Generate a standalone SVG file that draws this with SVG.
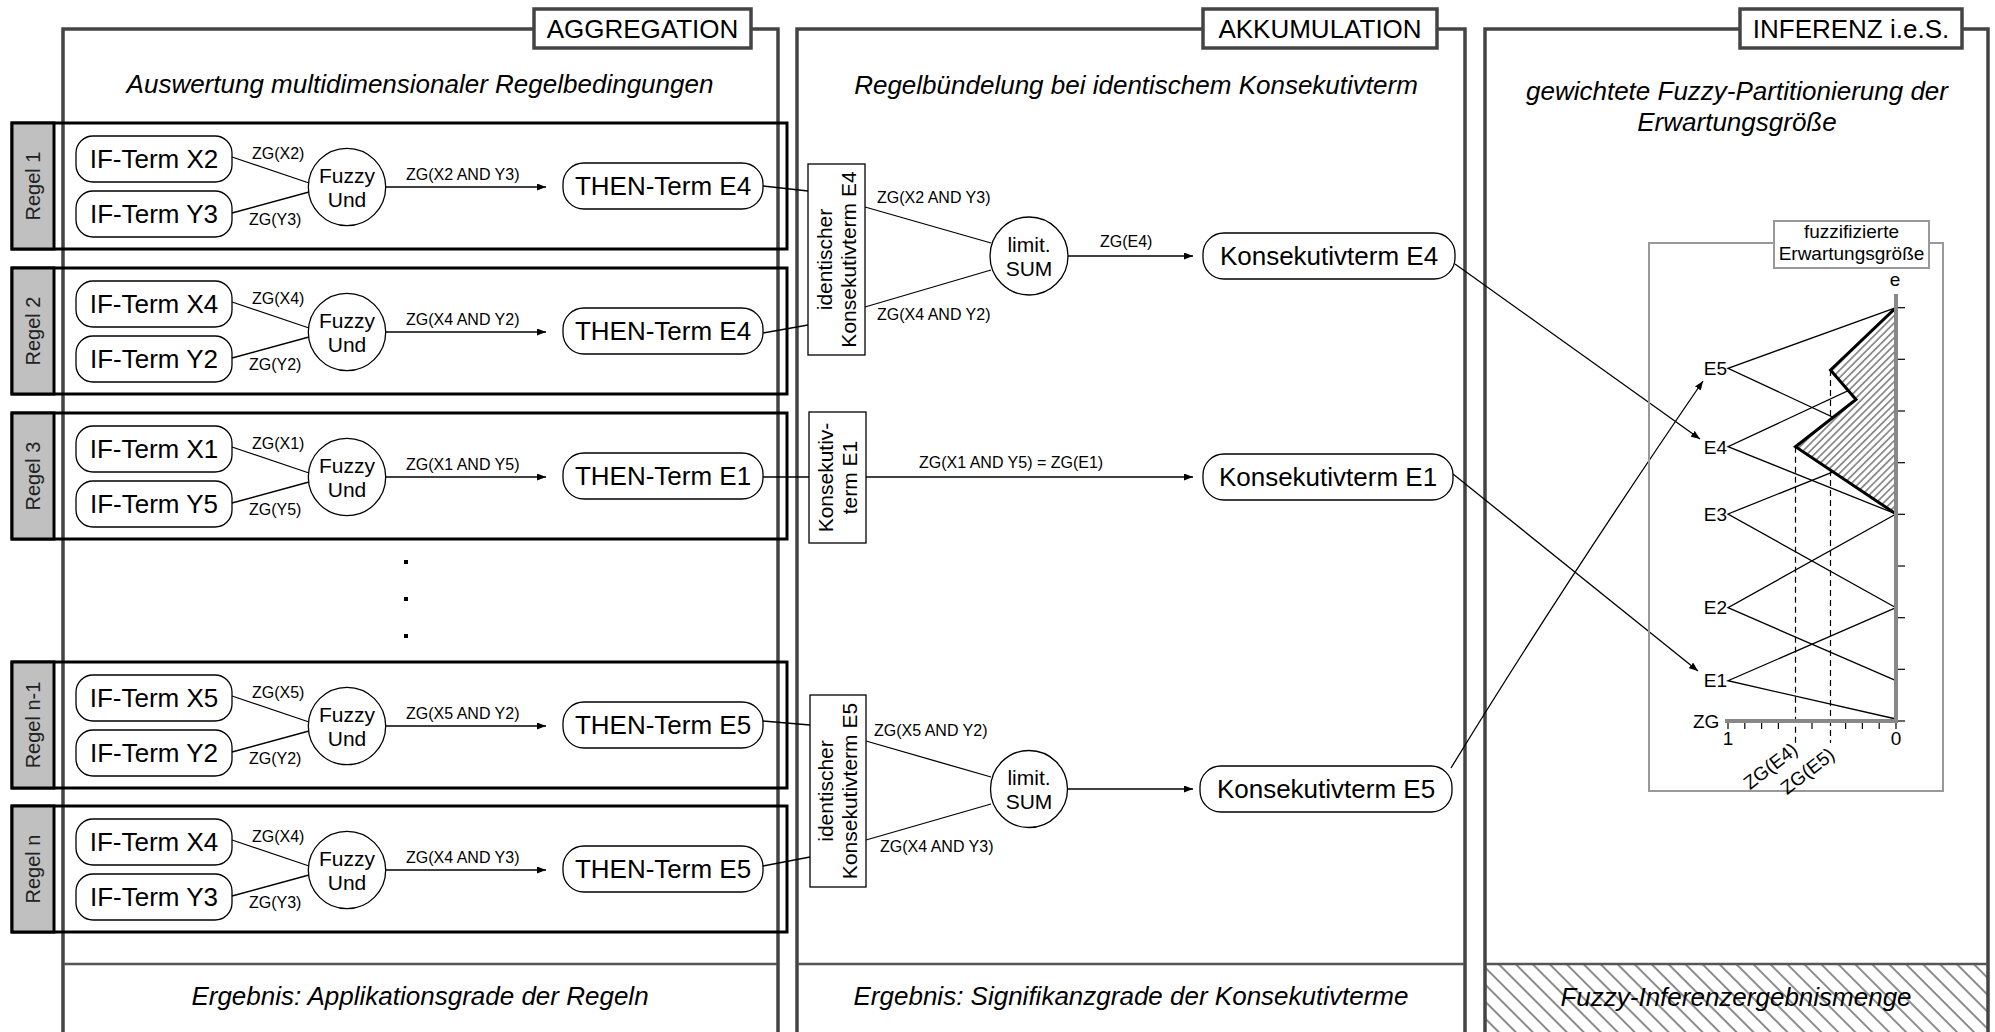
<svg xmlns="http://www.w3.org/2000/svg" width="1995" height="1032" viewBox="0 0 1995 1032">
<defs>
<style>
text{font-family:"Liberation Sans",Arial,sans-serif;fill:#000}
.frame{fill:none;stroke:#444;stroke-width:3.5}
.flabel{fill:#fff;stroke:#444;stroke-width:3.5}
.ft{font-size:26px;text-anchor:middle}
.sub{font-size:26px;font-style:italic;text-anchor:middle}
.sep{stroke:#555;stroke-width:2.5}
.rule{fill:none;stroke:#000;stroke-width:3}
.tab{fill:#c0c0c0;stroke:#000;stroke-width:3}
.tabt{font-size:20px;text-anchor:middle;fill:#222}
.node{fill:#fff;stroke:#000;stroke-width:1.3}
.nt{font-size:26px;text-anchor:middle}
.ct{font-size:21px;text-anchor:middle}
.zg{font-size:16px}
.ln{stroke:#000;stroke-width:1.3;fill:none}
.arr{stroke:#000;stroke-width:1.3;fill:none;marker-end:url(#ah)}
.ax{stroke:#888;stroke-width:4;fill:none}
.tk{stroke:#000;stroke-width:1.2}
.dash{stroke:#000;stroke-width:1.2;stroke-dasharray:6 4}
.lbl{font-size:19px}
</style>
<marker id="ah" markerWidth="9" markerHeight="7" refX="9" refY="3.5" orient="auto" markerUnits="userSpaceOnUse"><path d="M0,0 L9,3.5 L0,7 z" fill="#000"/></marker>
<pattern id="hatchS" width="5.2" height="5.2" patternUnits="userSpaceOnUse" patternTransform="rotate(45)"><line x1="2.6" y1="0" x2="2.6" y2="5.2" stroke="#000" stroke-width="0.8"/></pattern>
<pattern id="hatchB" width="12" height="12" patternUnits="userSpaceOnUse" patternTransform="rotate(-45)"><line x1="6" y1="0" x2="6" y2="12" stroke="#000" stroke-width="0.9"/></pattern>
</defs>
<rect width="1995" height="1032" fill="#fff"/>

<!-- Inferenz bottom hatch -->
<rect x="1485" y="964" width="503" height="68" fill="url(#hatchB)"/>

<!-- Frames -->
<g id="frame-aggregation">
<path class="frame" d="M63,1032 V29 H778 V1032"/>
<line class="sep" x1="64" y1="964" x2="777" y2="964"/>
<text class="sub" x="420" y="93">Auswertung multidimensionaler Regelbedingungen</text>
<text class="sub" x="420" y="1005">Ergebnis: Applikationsgrade der Regeln</text>
</g>
<g id="frame-akkumulation">
<path class="frame" d="M797,1032 V29 H1465 V1032"/>
<line class="sep" x1="798" y1="964" x2="1464" y2="964"/>
<text class="sub" x="1136" y="94">Regelbündelung bei identischem Konsekutivterm</text>
<text class="sub" x="1131" y="1005">Ergebnis: Signifikanzgrade der Konsekutivterme</text>
</g>
<g id="frame-inferenz">
<path class="frame" d="M1485,1032 V29 H1988 V1032"/>
<line class="sep" x1="1486" y1="964" x2="1987" y2="964"/>
<text class="sub" x="1737" y="100">gewichtete Fuzzy-Partitionierung der</text>
<text class="sub" x="1737" y="131">Erwartungsgröße</text>
<text class="sub" x="1736" y="1006">Fuzzy-Inferenzergebnismenge</text>
</g>

<!-- Rules -->
<g id="regel-1">
<rect class="rule" x="12" y="123" width="775" height="126"/>
<rect class="tab" x="12" y="123" width="42" height="126"/>
<text class="tabt" transform="translate(40,186) rotate(-90)">Regel 1</text>
<rect class="node" x="76" y="136" width="156" height="46" rx="17"/><text class="nt" x="154" y="167.5">IF-Term X2</text>
<rect class="node" x="76" y="191" width="156" height="46" rx="17"/><text class="nt" x="154" y="222.5">IF-Term Y3</text>
<line class="ln" x1="232" y1="157" x2="309" y2="183"/><line class="ln" x1="232" y1="213" x2="309" y2="192"/>
<text class="zg" x="252" y="159">ZG(X2)</text><text class="zg" x="249" y="225">ZG(Y3)</text>
<circle class="node" cx="347" cy="187" r="38.7"/><text class="ct" x="347" y="183">Fuzzy</text><text class="ct" x="347" y="206.5">Und</text>
<line class="arr" x1="386" y1="187" x2="546" y2="187"/><text class="zg" x="406" y="180">ZG(X2 AND Y3)</text>
<rect class="node" x="563" y="163" width="200" height="46" rx="21"/><text class="nt" x="663" y="195">THEN-Term E4</text>
</g>
<g id="regel-2">
<rect class="rule" x="12" y="268" width="775" height="126"/>
<rect class="tab" x="12" y="268" width="42" height="126"/>
<text class="tabt" transform="translate(40,331) rotate(-90)">Regel 2</text>
<rect class="node" x="76" y="281" width="156" height="46" rx="17"/><text class="nt" x="154" y="312.5">IF-Term X4</text>
<rect class="node" x="76" y="336" width="156" height="46" rx="17"/><text class="nt" x="154" y="367.5">IF-Term Y2</text>
<line class="ln" x1="232" y1="302" x2="309" y2="328"/><line class="ln" x1="232" y1="358" x2="309" y2="337"/>
<text class="zg" x="252" y="304">ZG(X4)</text><text class="zg" x="249" y="370">ZG(Y2)</text>
<circle class="node" cx="347" cy="332" r="38.7"/><text class="ct" x="347" y="328">Fuzzy</text><text class="ct" x="347" y="351.5">Und</text>
<line class="arr" x1="386" y1="332" x2="546" y2="332"/><text class="zg" x="406" y="325">ZG(X4 AND Y2)</text>
<rect class="node" x="563" y="308" width="200" height="46" rx="21"/><text class="nt" x="663" y="340">THEN-Term E4</text>
</g>
<g id="regel-3">
<rect class="rule" x="12" y="413" width="775" height="126"/>
<rect class="tab" x="12" y="413" width="42" height="126"/>
<text class="tabt" transform="translate(40,476) rotate(-90)">Regel 3</text>
<rect class="node" x="76" y="426" width="156" height="46" rx="17"/><text class="nt" x="154" y="457.5">IF-Term X1</text>
<rect class="node" x="76" y="481" width="156" height="46" rx="17"/><text class="nt" x="154" y="512.5">IF-Term Y5</text>
<line class="ln" x1="232" y1="447" x2="309" y2="473"/><line class="ln" x1="232" y1="503" x2="309" y2="482"/>
<text class="zg" x="252" y="449">ZG(X1)</text><text class="zg" x="249" y="515">ZG(Y5)</text>
<circle class="node" cx="347" cy="477" r="38.7"/><text class="ct" x="347" y="473">Fuzzy</text><text class="ct" x="347" y="496.5">Und</text>
<line class="arr" x1="386" y1="477" x2="546" y2="477"/><text class="zg" x="406" y="470">ZG(X1 AND Y5)</text>
<rect class="node" x="563" y="453" width="200" height="46" rx="21"/><text class="nt" x="663" y="485">THEN-Term E1</text>
</g>
<g id="dots">
<rect x="404" y="560" width="4" height="4"/><rect x="404" y="597" width="4" height="4"/><rect x="404" y="634" width="4" height="4"/>
</g>
<g id="regel-n-1">
<rect class="rule" x="12" y="662" width="775" height="126"/>
<rect class="tab" x="12" y="662" width="42" height="126"/>
<text class="tabt" transform="translate(40,725) rotate(-90)">Regel n-1</text>
<rect class="node" x="76" y="675" width="156" height="46" rx="17"/><text class="nt" x="154" y="706.5">IF-Term X5</text>
<rect class="node" x="76" y="730" width="156" height="46" rx="17"/><text class="nt" x="154" y="761.5">IF-Term Y2</text>
<line class="ln" x1="232" y1="696" x2="309" y2="722"/><line class="ln" x1="232" y1="752" x2="309" y2="731"/>
<text class="zg" x="252" y="698">ZG(X5)</text><text class="zg" x="249" y="764">ZG(Y2)</text>
<circle class="node" cx="347" cy="726" r="38.7"/><text class="ct" x="347" y="722">Fuzzy</text><text class="ct" x="347" y="745.5">Und</text>
<line class="arr" x1="386" y1="726" x2="546" y2="726"/><text class="zg" x="406" y="719">ZG(X5 AND Y2)</text>
<rect class="node" x="563" y="702" width="200" height="46" rx="21"/><text class="nt" x="663" y="734">THEN-Term E5</text>
</g>
<g id="regel-n">
<rect class="rule" x="12" y="806" width="775" height="126"/>
<rect class="tab" x="12" y="806" width="42" height="126"/>
<text class="tabt" transform="translate(40,869) rotate(-90)">Regel n</text>
<rect class="node" x="76" y="819" width="156" height="46" rx="17"/><text class="nt" x="154" y="850.5">IF-Term X4</text>
<rect class="node" x="76" y="874" width="156" height="46" rx="17"/><text class="nt" x="154" y="905.5">IF-Term Y3</text>
<line class="ln" x1="232" y1="840" x2="309" y2="866"/><line class="ln" x1="232" y1="896" x2="309" y2="875"/>
<text class="zg" x="252" y="842">ZG(X4)</text><text class="zg" x="249" y="908">ZG(Y3)</text>
<circle class="node" cx="347" cy="870" r="38.7"/><text class="ct" x="347" y="866">Fuzzy</text><text class="ct" x="347" y="889.5">Und</text>
<line class="arr" x1="386" y1="870" x2="546" y2="870"/><text class="zg" x="406" y="863">ZG(X4 AND Y3)</text>
<rect class="node" x="563" y="846" width="200" height="46" rx="21"/><text class="nt" x="663" y="878">THEN-Term E5</text>
</g>

<!-- Frame title boxes -->
<g id="title-aggregation"><rect class="flabel" x="534" y="9" width="217" height="39"/><text class="ft" x="642.5" y="37.5">AGGREGATION</text></g>
<g id="title-akkumulation"><rect class="flabel" x="1203" y="9" width="234" height="39"/><text class="ft" x="1320" y="37.5">AKKUMULATION</text></g>
<g id="title-inferenz"><rect class="flabel" x="1740" y="9" width="222" height="39"/><text class="ft" x="1851" y="37.5">INFERENZ i.e.S.</text></g>

<!-- Connectors -->
<g id="connectors">
<line class="ln" x1="763" y1="186" x2="808" y2="191"/>
<line class="ln" x1="763" y1="333" x2="808" y2="325"/>
<line class="ln" x1="763" y1="477" x2="809" y2="477"/>
<line class="ln" x1="763" y1="721" x2="810" y2="725"/>
<line class="ln" x1="763" y1="866" x2="810" y2="857"/>
<line class="ln" x1="865" y1="207" x2="991" y2="243"/>
<line class="ln" x1="865" y1="307" x2="991" y2="270"/>
<line class="arr" x1="1068" y1="256" x2="1193" y2="256"/>
<line class="arr" x1="866" y1="477" x2="1193" y2="477"/>
<line class="ln" x1="866" y1="741" x2="991" y2="777"/>
<line class="ln" x1="866" y1="840" x2="991" y2="804"/>
<line class="arr" x1="1068" y1="789" x2="1193" y2="789"/>
<line class="arr" x1="1455" y1="264" x2="1700" y2="439"/>
<line class="arr" x1="1453" y1="474" x2="1698" y2="671"/>
<path class="arr" d="M1451,768 Q1560,590 1703,381"/>
</g>
<g id="connector-labels">
<text class="zg" x="877" y="203">ZG(X2 AND Y3)</text>
<text class="zg" x="877" y="320">ZG(X4 AND Y2)</text>
<text class="zg" x="1100" y="247">ZG(E4)</text>
<text class="zg" x="919" y="468">ZG(X1 AND Y5) = ZG(E1)</text>
<text class="zg" x="874" y="736">ZG(X5 AND Y2)</text>
<text class="zg" x="880" y="852">ZG(X4 AND Y3)</text>
</g>

<!-- Akkumulation nodes -->
<g id="box-e4"><rect class="node" x="808" y="164" width="57" height="191"/>
<text class="ct" transform="translate(832,259.5) rotate(-90)">identischer</text>
<text class="ct" transform="translate(856,259.5) rotate(-90)">Konsekutivterm E4</text></g>
<g id="sum-e4"><circle class="node" cx="1029" cy="256" r="39"/><text class="ct" x="1029" y="252">limit.</text><text class="ct" x="1029" y="275.5">SUM</text></g>
<g id="konsekutiv-e4"><rect class="node" x="1203" y="233" width="252" height="46" rx="21"/><text class="nt" x="1329" y="265">Konsekutivterm E4</text></g>

<g id="box-e1"><rect class="node" x="809" y="412" width="57" height="131"/>
<text class="ct" transform="translate(833,477.5) rotate(-90)">Konsekutiv-</text>
<text class="ct" transform="translate(857,477.5) rotate(-90)">term E1</text></g>
<g id="konsekutiv-e1"><rect class="node" x="1203" y="454" width="250" height="46" rx="21"/><text class="nt" x="1328" y="486">Konsekutivterm E1</text></g>

<g id="box-e5"><rect class="node" x="810" y="695" width="56" height="192"/>
<text class="ct" transform="translate(833,791) rotate(-90)">identischer</text>
<text class="ct" transform="translate(857,791) rotate(-90)">Konsekutivterm E5</text></g>
<g id="sum-e5"><circle class="node" cx="1029" cy="789" r="38.5"/><text class="ct" x="1029" y="785">limit.</text><text class="ct" x="1029" y="808.5">SUM</text></g>
<g id="konsekutiv-e5"><rect class="node" x="1200" y="766" width="252" height="46" rx="21"/><text class="nt" x="1326" y="798">Konsekutivterm E5</text></g>

<!-- Chart -->
<g id="chart">
<rect x="1649" y="243" width="294" height="548" fill="none" stroke="#999" stroke-width="2"/>
<rect x="1774" y="221" width="155" height="47" fill="#fff" stroke="#999" stroke-width="2"/>
<text class="lbl" x="1851.5" y="238" text-anchor="middle">fuzzifizierte</text>
<text class="lbl" x="1851.5" y="260" text-anchor="middle">Erwartungsgröße</text>
<text class="lbl" x="1895" y="286" text-anchor="middle">e</text>
<g class="tk">
<line x1="1896" y1="307.7" x2="1905" y2="307.7"/><line x1="1896" y1="359.3" x2="1905" y2="359.3"/><line x1="1896" y1="411" x2="1905" y2="411"/><line x1="1896" y1="462.7" x2="1905" y2="462.7"/><line x1="1896" y1="514.3" x2="1905" y2="514.3"/><line x1="1896" y1="566" x2="1905" y2="566"/><line x1="1896" y1="617.7" x2="1905" y2="617.7"/><line x1="1896" y1="669.3" x2="1905" y2="669.3"/><line x1="1896" y1="721" x2="1905" y2="721"/>
<line x1="1728" y1="721" x2="1728" y2="729"/><line x1="1744.8" y1="721" x2="1744.8" y2="729"/><line x1="1761.6" y1="721" x2="1761.6" y2="729"/><line x1="1778.4" y1="721" x2="1778.4" y2="729"/><line x1="1812" y1="721" x2="1812" y2="729"/><line x1="1845.6" y1="721" x2="1845.6" y2="729"/><line x1="1862.4" y1="721" x2="1862.4" y2="729"/><line x1="1879.2" y1="721" x2="1879.2" y2="729"/><line x1="1896" y1="721" x2="1896" y2="729"/>
</g>
<g class="ln" stroke-width="1.2">
<polyline points="1896,307.7 1728,368.3 1896,446.7"/>
<polyline points="1896,368.3 1728,446.7 1896,514"/>
<polyline points="1896,446.7 1728,514 1896,607.7"/>
<polyline points="1896,514 1728,607.7 1896,680.7"/>
<polyline points="1896,607.7 1728,680.7 1896,719"/>
</g>
<line class="dash" x1="1795.5" y1="446.7" x2="1795.5" y2="743"/>
<line class="dash" x1="1830.5" y1="370" x2="1830.5" y2="743"/>
<polygon points="1896,307.7 1830.5,370 1856,399.5 1795.5,446.7 1896,514" fill="#fff"/>
<polygon points="1896,307.7 1830.5,370 1856,399.5 1795.5,446.7 1896,514" fill="url(#hatchS)" stroke="#000" stroke-width="3" stroke-linejoin="miter"/>
<line class="ax" x1="1896" y1="294" x2="1896" y2="723"/>
<line class="ax" x1="1725" y1="721" x2="1898" y2="721"/>
<text class="lbl" x="1727" y="375" text-anchor="end">E5</text>
<text class="lbl" x="1727" y="454" text-anchor="end">E4</text>
<text class="lbl" x="1727" y="521" text-anchor="end">E3</text>
<text class="lbl" x="1727" y="614" text-anchor="end">E2</text>
<text class="lbl" x="1727" y="687" text-anchor="end">E1</text>
<text class="lbl" x="1693" y="728">ZG</text>
<text class="lbl" x="1728" y="745" text-anchor="middle">1</text>
<text class="lbl" x="1896" y="745" text-anchor="middle">0</text>
<text class="lbl" font-size="18" text-anchor="end" transform="translate(1799,752) rotate(-38)">ZG(E4)</text>
<text class="lbl" font-size="18" text-anchor="end" transform="translate(1836,757) rotate(-38)">ZG(E5)</text>
</g>
</svg>
